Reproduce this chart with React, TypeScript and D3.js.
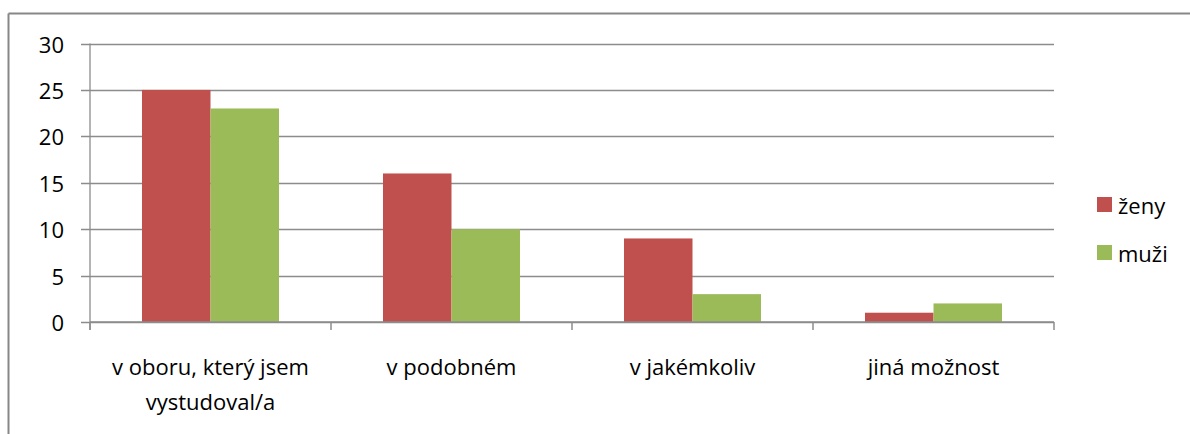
import React from "react";
import * as d3 from "d3";

const categories: string[][] = [
  ["v oboru, který jsem", "vystudoval/a"],
  ["v podobném"],
  ["v jakémkoliv"],
  ["jiná možnost"],
];
const zeny: number[] = [25, 16, 9, 1];
const muzi: number[] = [23, 10, 3, 2];
const seriesNames = ["ženy", "muži"];
const seriesColors = ["#C0504D", "#9BBB59"];
const yTicks = [0, 5, 10, 15, 20, 25, 30];

const W = 1190;
const H = 434;
const FONT = "'Open Sans', sans-serif";
const FS = 22;

export default function App() {
  const left = 90, right = 1054, top = 43.5, bottom = 322;
  const x = d3.scaleBand<number>().domain(d3.range(categories.length)).range([left, right]).paddingInner(0).paddingOuter(0);
  const y = d3.scaleLinear().domain([0, 30]).range([bottom, top]);
  const bw = x.bandwidth();
  const inner = d3.scaleBand<number>().domain([0, 1]).range([0, bw]).paddingInner(0).paddingOuter(0.759);
  const series = [zeny, muzi];
  const gridColor = "#8C8C8C";

  return (
    <svg width={W} height={H} style={{ position: "absolute", left: 0, top: 0, background: "#fff" }} fontFamily={FONT}>
      <line x1={8.5} y1={13.5} x2={W} y2={13.5} stroke="#878787" strokeWidth={2} />
      <line x1={8.5} y1={13.5} x2={8.5} y2={H} stroke="#878787" strokeWidth={2} />
      {yTicks.map((t) => (
        <g key={t}>
          <line x1={81} x2={right} y1={Math.round(y(t)) + 0.5} y2={Math.round(y(t)) + 0.5} stroke={gridColor} strokeWidth={1.3} />
          <text x={64} y={y(t)} textAnchor="end" dominantBaseline="central" fontSize={FS} fill="#000">{t}</text>
        </g>
      ))}
      <line x1={left} x2={left} y1={top} y2={bottom + 8} stroke={gridColor} strokeWidth={1.3} />
      {series.map((vals, si) =>
        vals.map((v, ci) => (
          <rect key={`${si}-${ci}`} x={(x(ci) as number) + (inner(si) as number)} width={inner.bandwidth()} y={y(v)} height={y(0) - y(v)} fill={seriesColors[si]} />
        ))
      )}
      <line x1={left} x2={right} y1={bottom} y2={bottom} stroke={gridColor} strokeWidth={1.5} />
      {d3.range(categories.length + 1).map((i) => {
        const xx = left + i * bw;
        return <line key={i} x1={xx} x2={xx} y1={bottom} y2={bottom + 8} stroke={gridColor} strokeWidth={1.5} />;
      })}
      {categories.map((lines, ci) => (
        <text key={ci} x={(x(ci) as number) + bw / 2} y={366} textAnchor="middle" fontSize={FS} fill="#000">
          {lines.map((l, li) => (
            <tspan key={li} x={(x(ci) as number) + bw / 2} dy={li === 0 ? 0 : 35} dominantBaseline="central">{l}</tspan>
          ))}
        </text>
      ))}
      {seriesNames.map((n, i) => (
        <g key={n} transform={`translate(1097, ${197 + i * 48})`}>
          <rect x={0} y={0} width={15} height={15} fill={seriesColors[i]} />
          <text x={21} y={7.5} dominantBaseline="central" fontSize={FS} fill="#000">{n}</text>
        </g>
      ))}
    </svg>
  );
}
